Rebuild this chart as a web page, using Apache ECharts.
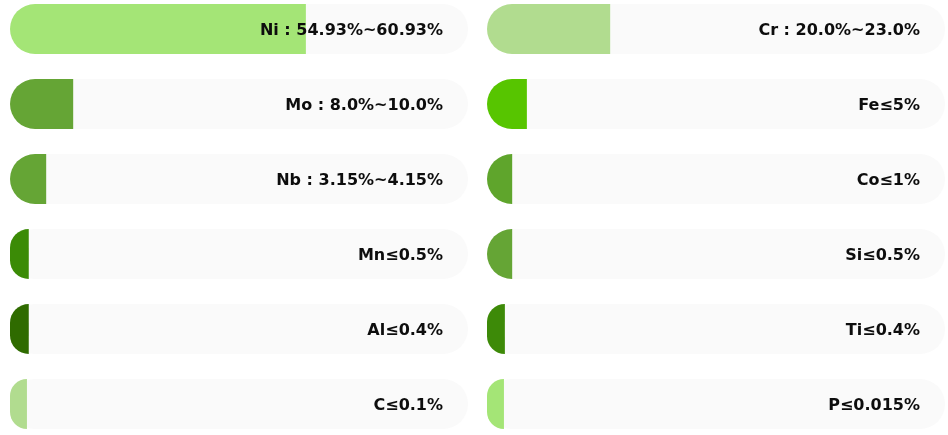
<!DOCTYPE html>
<html>
<head>
<meta charset="utf-8">
<script src="https://cdn.jsdelivr.net/npm/echarts@6/dist/echarts.min.js"></script>
<style>html,body{margin:0;padding:0;background:#fff;}#c{width:948px;height:435px;}</style>
</head>
<body>
<div id="c"></div>
<script>
// Left column
var leftNames = ['Ni', 'Mo', 'Nb', 'Mn', 'Al', 'C'];
var leftLabels = ['Ni : 54.93%~60.93%', 'Mo : 8.0%~10.0%', 'Nb : 3.15%~4.15%', 'Mn≤0.5%', 'Al≤0.4%', 'C≤0.1%'];
var leftValues = [64.6, 13.8, 7.9, 4.1, 4.1, 3.7];
var leftColors = ['#a4e576', '#65a535', '#65a535', '#3b8b06', '#2f6b00', '#b1dc8f'];
// Right column
var rightNames = ['Cr', 'Fe', 'Co', 'Si', 'Ti', 'P'];
var rightLabels = ['Cr : 20.0%~23.0%', 'Fe≤5%', 'Co≤1%', 'Si≤0.5%', 'Ti≤0.4%', 'P≤0.015%'];
var rightValues = [26.9, 8.7, 5.5, 5.5, 3.9, 3.7];
var rightColors = ['#b1dc8f', '#57c500', '#5fa52c', '#65a535', '#3d8a08', '#a4e576'];
var axisMax = 100;

function full(arr) { return arr.map(function () { return axisMax; }); }

function columnSeries(idx, names, labels, values, colors) {
  return [
    {
      type: 'bar', xAxisIndex: idx, yAxisIndex: idx, z: 1,
      barWidth: 50, silent: true,
      itemStyle: { color: '#fafafa', borderRadius: 25 },
      data: full(names)
    },
    {
      type: 'bar', xAxisIndex: idx, yAxisIndex: idx, z: 2,
      barWidth: 50, barGap: '-100%', silent: true,
      data: values.map(function (v, i) {
        return { value: v, itemStyle: { color: colors[i], borderRadius: [25, 0, 0, 25] } };
      })
    },
    {
      type: 'bar', xAxisIndex: idx, yAxisIndex: idx, z: 3,
      barWidth: 50, barGap: '-100%', silent: true,
      itemStyle: { color: 'rgba(0,0,0,0)' },
      label: {
        show: true, position: 'insideRight', distance: 25, offset: [0, 2],
        color: '#0d0d0d', fontSize: 16, fontWeight: 'bold',
        fontFamily: '"DejaVu Sans", sans-serif',
        formatter: function (p) { return labels[p.dataIndex]; }
      },
      data: full(names)
    }
  ];
}

var chart = echarts.init(document.getElementById('c'));
chart.setOption({
  animation: false,
  backgroundColor: '#ffffff',
  grid: [
    { left: 10, width: 458, top: 29, height: 375 },
    { left: 487, width: 458, top: 29, height: 375 }
  ],
  xAxis: [
    { gridIndex: 0, type: 'value', min: 0, max: axisMax, show: false },
    { gridIndex: 1, type: 'value', min: 0, max: axisMax, show: false }
  ],
  yAxis: [
    { gridIndex: 0, type: 'category', boundaryGap: false, inverse: true, data: leftNames, show: false },
    { gridIndex: 1, type: 'category', boundaryGap: false, inverse: true, data: rightNames, show: false }
  ],
  series: columnSeries(0, leftNames, leftLabels, leftValues, leftColors)
    .concat(columnSeries(1, rightNames, rightLabels, rightValues, rightColors))
});
</script>
</body>
</html>
